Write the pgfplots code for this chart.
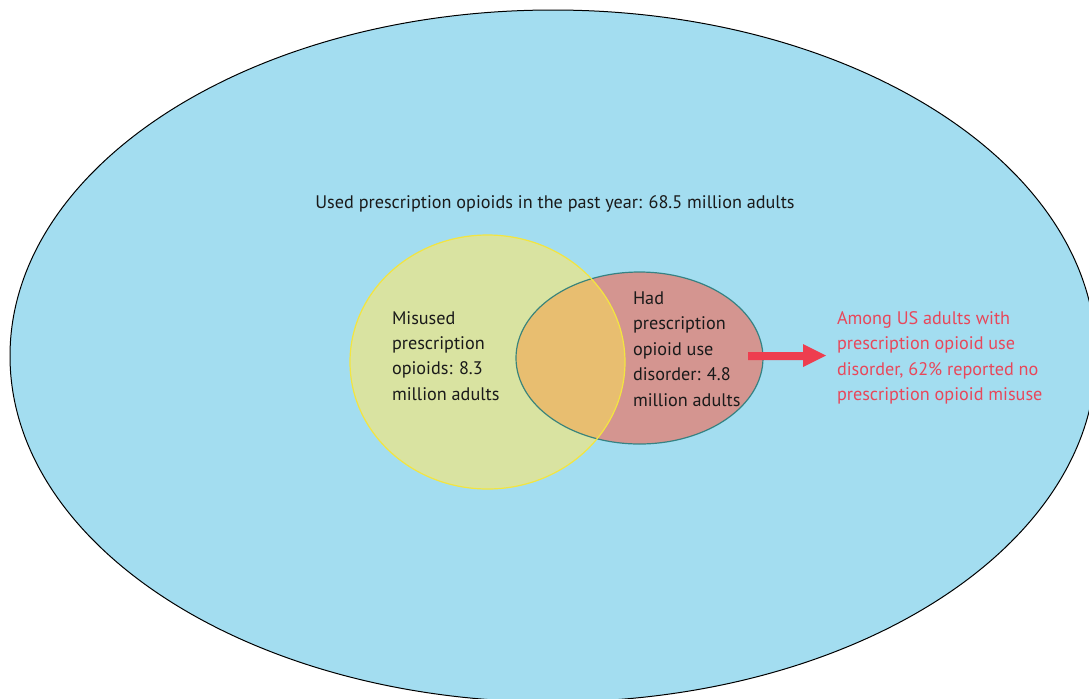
\documentclass[border=0pt]{standalone}
\usepackage{pgfplots}
\pgfplotsset{compat=1.18}
\usepackage{fontspec}
\setmainfont{PT Sans}
\definecolor{bgblue}{HTML}{A3DDF0}
\definecolor{yel}{HTML}{D9E3A1}
\definecolor{yeledge}{HTML}{F3E540}
\definecolor{redfill}{HTML}{D49590}
\definecolor{tealedge}{HTML}{1F7A7A}
\definecolor{inter}{HTML}{E8BE70}
\definecolor{redtext}{HTML}{E8475A}
\definecolor{arrowred}{HTML}{EE3D4F}
\definecolor{txt}{HTML}{1A1A1A}
\tikzset{lbl/.style={inner sep=0pt, outer sep=0pt, font=\fontsize{9.1}{12.5}\selectfont}}
\begin{document}
\begin{tikzpicture}
\begin{axis}[
  scale only axis, width=544.5pt, height=349pt,
  xmin=0, xmax=1089, ymin=0, ymax=698, y dir=reverse,
  hide axis, clip=true,
]
% outer population ellipse
\fill[bgblue] (axis cs:553,356) ellipse [x radius=543, y radius=346];
\draw[black, line width=0.5pt] (axis cs:553,356) ellipse [x radius=543, y radius=346];
% misuse circle
\fill[yel] (axis cs:487.5,362) ellipse [x radius=137.5, y radius=127];
% OUD ellipse
\fill[redfill] (axis cs:639.5,358) ellipse [x radius=123.5, y radius=86];
% intersection
\begin{scope}
\clip (axis cs:487.5,362) ellipse [x radius=137.5, y radius=127];
\fill[inter] (axis cs:639.5,358) ellipse [x radius=123.5, y radius=86];
\end{scope}
\draw[tealedge, line width=0.6pt, opacity=0.85] (axis cs:639.5,358) ellipse [x radius=123.5, y radius=86];
\draw[yeledge, line width=0.6pt] (axis cs:487.5,362) ellipse [x radius=137.5, y radius=127];
% arrow
\fill[arrowred] (axis cs:748,352) -- (axis cs:803,352) -- (axis cs:803,344) -- (axis cs:826,355.5) -- (axis cs:803,367) -- (axis cs:803,360) -- (axis cs:748,360) -- cycle;
% texts
\node[lbl, anchor=base, text=txt] at (axis cs:555,208) {Used prescription opioids in the past year: 68.5 million adults};
\node[lbl, anchor=base west, text=txt] at (axis cs:392,324) {Misused};
\node[lbl, anchor=base west, text=txt] at (axis cs:392,349) {prescription};
\node[lbl, anchor=base west, text=txt] at (axis cs:392,374) {opioids: 8.3};
\node[lbl, anchor=base west, text=txt] at (axis cs:392,400) {million adults};
\node[lbl, anchor=base west, text=txt] at (axis cs:633,304) {Had};
\node[lbl, anchor=base west, text=txt] at (axis cs:633,329) {prescription};
\node[lbl, anchor=base west, text=txt] at (axis cs:633,355) {opioid use};
\node[lbl, anchor=base west, text=txt] at (axis cs:633,380) {disorder: 4.8};
\node[lbl, anchor=base west, text=txt] at (axis cs:633,406) {million adults};
\node[lbl, anchor=base west, text=redtext] at (axis cs:837,324) {Among US adults with};
\node[lbl, anchor=base west, text=redtext] at (axis cs:837,349) {prescription opioid use};
\node[lbl, anchor=base west, text=redtext] at (axis cs:837,375) {disorder, 62\% reported no};
\node[lbl, anchor=base west, text=redtext] at (axis cs:837,400) {prescription opioid misuse};
\end{axis}
\pgfresetboundingbox
\useasboundingbox (current axis.south west) rectangle (current axis.north east);
\end{tikzpicture}
\end{document}
